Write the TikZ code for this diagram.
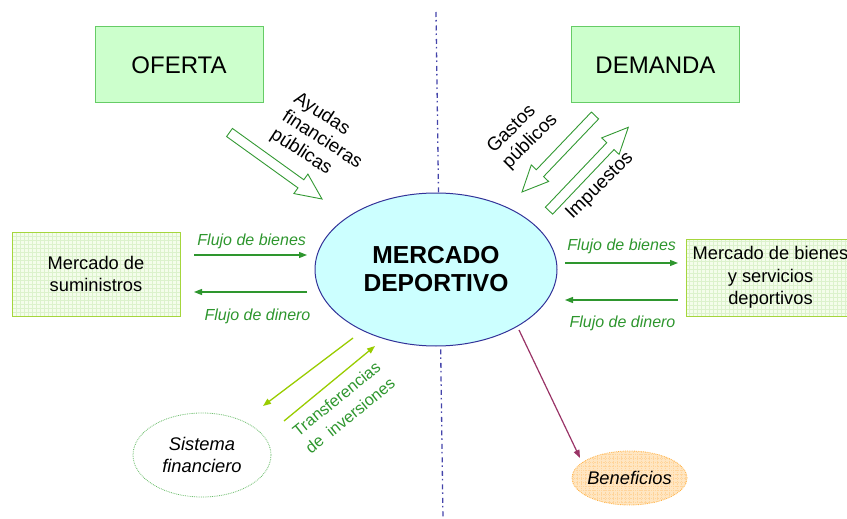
\documentclass[tikz,border=0pt]{standalone}
\usepackage{fontspec}
\setmainfont{Liberation Sans}
\usetikzlibrary{shapes.geometric,arrows.meta,calc}
\definecolor{boxfill}{HTML}{CCFFCC}
\definecolor{boxline}{HTML}{66CC66}
\definecolor{mktfill}{HTML}{F4FDEB}
\definecolor{mktgrid}{HTML}{DCF2CC}
\definecolor{mktline}{HTML}{A5D63C}
\definecolor{flowgreen}{HTML}{2E962E}
\definecolor{arrgreen}{HTML}{339933}
\definecolor{transgreen}{HTML}{99CC00}
\definecolor{ellfill}{HTML}{CCFFFF}
\definecolor{ellline}{HTML}{333399}
\definecolor{axisblue}{HTML}{4444AA}
\definecolor{benfill}{HTML}{FFE6C2}
\definecolor{bengrid}{HTML}{FFD49A}
\definecolor{benline}{HTML}{FFB347}
\definecolor{finline}{HTML}{66BB66}
\definecolor{benarrow}{HTML}{993366}
\newcommand\blkarrow[2]{%
  \coordinate (hb) at ($(#2)!26pt!(#1)$);
  \draw[blockarrow] ($(#1)!5pt!90:(#2)$) -- ($(hb)!5pt!90:(#2)$) -- ($(hb)!12pt!90:(#2)$)
    -- (#2) -- ($(hb)!12pt!-90:(#2)$) -- ($(hb)!5pt!-90:(#2)$) -- ($(#1)!5pt!-90:(#2)$) -- cycle;}
\begin{document}
\begin{tikzpicture}[x=1pt,y=-1pt,
  bigbox/.style={draw=boxline, fill=boxfill, line width=1pt, minimum width=168pt, minimum height=76pt,
    font=\fontsize{24}{28}\selectfont},
  mktbox/.style={draw=mktline, fill=mktfill, line width=1pt, align=center, inner sep=0pt,
    font=\fontsize{18.3}{22.5}\selectfont,
    path picture={\draw[mktgrid, line width=0.3pt, step=4pt] (path picture bounding box.south west) grid (path picture bounding box.north east);}},
  flowlbl/.style={text=flowgreen, font=\fontsize{16}{19}\itshape\selectfont},
  flow/.style={draw=flowgreen, line width=1.3pt, -{Triangle[length=8pt,width=6pt]}},
  trans/.style={draw=transgreen, line width=1.3pt, -{Triangle[length=8pt,width=6pt]}},
  blockarrow/.style={draw=arrgreen, fill=white, line width=0.9pt, line join=miter},
  rotlbl/.style={font=\fontsize{18.8}{21.5}\selectfont, align=left, inner sep=0pt}]
\useasboundingbox (0,0) rectangle (847,519);
% axis
\draw[axisblue, line width=1.3pt, dash pattern=on 5pt off 3pt on 1.5pt off 4pt] (436,12) -- (443,519);
% main nodes
\node[bigbox] (oferta) at (179,65) {OFERTA};
\node[bigbox] (demanda) at (655.5,65) {DEMANDA};
\node[ellipse, draw=ellline, fill=ellfill, line width=1pt, minimum width=242pt, minimum height=153pt,
  inner sep=0pt, align=center, font=\fontsize{24.6}{28}\bfseries\selectfont] (mercado) at (436,269.5) {MERCADO\\DEPORTIVO};
\node[mktbox, minimum width=168pt, minimum height=84pt] (sumin) at (96,274) {Mercado de\\suministros};
\node[mktbox, minimum width=169pt, minimum height=77pt] (bienes) at (770.5,277.5) {Mercado de bienes\\y servicios\\deportivos};
\node[ellipse, draw=finline, densely dotted, line width=0.8pt, minimum width=138pt, minimum height=84pt,
  inner sep=0pt, align=center, font=\fontsize{18.3}{22}\itshape\selectfont] (sistema) at (202,455) {Sistema\\financiero};
\node[ellipse, draw=benline, densely dotted, line width=0.8pt, fill=benfill, minimum width=115pt, minimum height=54pt,
  inner sep=0pt,
  path picture={\draw[bengrid, line width=0.3pt, step=4pt] (path picture bounding box.south west) grid (path picture bounding box.north east);}] (benef) at (629.5,478) {};
\node[font=\fontsize{18.3}{22}\itshape\selectfont] (beneftxt) at (benef.center) {Beneficios};
% flows left
\coordinate (lb1) at (194,255); \coordinate (lb2) at (307,255);
\coordinate (ld1) at (307,292); \coordinate (ld2) at (194,292);
\draw[flow] (lb1) -- (lb2);
\draw[flow] (ld1) -- (ld2);
\node[flowlbl] (lbl1) at (251.7,241.7) {Flujo de bienes};
\node[flowlbl] (lbl2) at (257.5,316.7) {Flujo de dinero};
% flows right
\coordinate (rb1) at (565,263); \coordinate (rb2) at (678,263);
\coordinate (rd1) at (678,300); \coordinate (rd2) at (565,300);
\draw[flow] (rb1) -- (rb2);
\draw[flow] (rd1) -- (rd2);
\node[flowlbl] (lbl3) at (621.7,246.7) {Flujo de bienes};
\node[flowlbl] (lbl4) at (622.5,323.3) {Flujo de dinero};
% block arrows
\coordinate (ayT) at (229.5,132.5); \coordinate (ayH) at (322,199);
\blkarrow{ayT}{ayH}
\coordinate (gaT) at (595,115.5); \coordinate (gaH) at (522,192);
\blkarrow{gaT}{gaH}
\coordinate (imT) at (549,210.7); \coordinate (imH) at (628.3,127.3);
\blkarrow{imT}{imH}
\node[rotlbl, rotate=-33] (ayudas) at (322,140) {Ayudas\\financieras\\públicas};
\node[rotlbl, rotate=45] (gastos) at (522.8,133.9) {Gastos\\públicos};
\node[rotlbl, rotate=45] (impuestos) at (600,186) {Impuestos};
% transfers
\coordinate (t1a) at (353,338); \coordinate (t1b) at (263,406);
\coordinate (t2a) at (284,421); \coordinate (t2b) at (375,346);
\draw[trans] (t1a) -- (t1b);
\draw[trans] (t2a) -- (t2b);
\node[font=\fontsize{16.3}{21.5}\selectfont, text=flowgreen, align=center, inner sep=0pt, rotate=39] (transf) at (343.2,407.1) {Transferencias\\de\ \ inversiones};
% beneficios arrow
\coordinate (bs) at (519,330);
\coordinate (be) at (580,458);
\draw[benarrow, line width=1.2pt, -{Triangle[length=8pt,width=6pt]}] (bs) -- (be);
\end{tikzpicture}
\end{document}
